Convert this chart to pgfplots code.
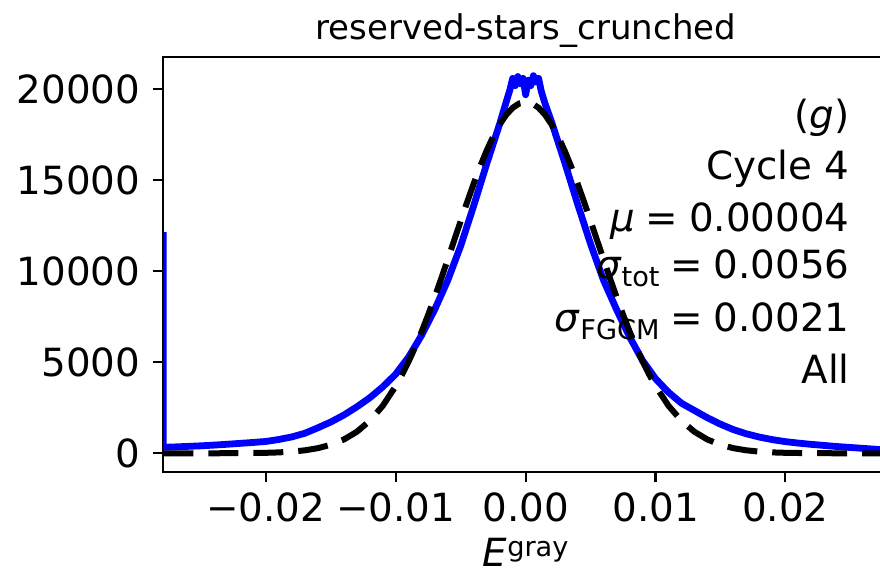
\documentclass[border=0pt]{standalone}
\usepackage{fontspec}
\setmainfont{DejaVu Sans}
\usepackage{pgfplots}
\pgfplotsset{compat=1.18}

\newcommand{\tfont}{\fontsize{19.4}{23}\selectfont}
\newcommand{\sub}[1]{\raisebox{-4pt}{\fontsize{13.6}{16}\selectfont #1}}
\newcommand{\eq}{\kern0.28em=\kern0.28em}

\begin{document}
\begin{tikzpicture}
\begin{axis}[
    scale only axis,
    width=362.35pt, height=207.35pt,
    xmin=-0.0279, xmax=0.0279,
    ymin=-1011, ymax=21775,
    axis line style={line width=1.1pt},
    tick style={line width=1.1pt, black},
    major tick length=5.3pt,
    tick align=outside,
    xtick pos=bottom, ytick pos=left,
    xtick={-0.02,-0.01,0,0.01,0.02},
    xticklabels={−0.02,−0.01,0.00,0.01,0.02},
    ytick={0,5000,10000,15000,20000},
    yticklabels={0,5000,10000,15000,20000},
    scaled ticks=false,
    xticklabel style={font=\tfont, anchor=base, inner sep=0pt, yshift=-19.7pt},
    yticklabel style={font=\tfont, anchor=east, inner sep=0pt, xshift=-6pt},
    title={reserved-stars\_crunched},
    title style={font=\fontsize{17}{20}\selectfont, at={(0.5,1)}, anchor=base, yshift=2.5pt},
    xlabel={\textit{E}\raisebox{5pt}{\fontsize{13.6}{16}\selectfont gray}},
    xlabel style={font=\tfont, at={(0.5,0)}, anchor=base, yshift=-47.6pt},
  ]
  % measured histogram
  \addplot[blue, line width=3.4pt, line join=round] coordinates {
      (-0.0279,12150) (-0.0279,330) (-0.027,350) (-0.026,380) (-0.025,410)
      (-0.024,450) (-0.023,495) (-0.022,545) (-0.021,595) (-0.020,650)
      (-0.019,760) (-0.018,900) (-0.017,1100) (-0.016,1400) (-0.015,1720)
      (-0.014,2100) (-0.013,2550) (-0.012,3050) (-0.011,3650) (-0.010,4350)
      (-0.009,5300) (-0.008,6500) (-0.007,7900) (-0.006,9500) (-0.005,11400)
      (-0.004,13600) (-0.003,15900) (-0.0025,17000) (-0.002,18100) (-0.0015,19300)
      (-0.0012,20000) (-0.001,20600) (-0.0008,20200) (-0.0006,20700) (-0.0004,20300)
      (-0.0002,20600) (0,19700) (0.0002,20500) (0.0004,20200) (0.0006,20750)
      (0.0008,20400) (0.001,20600) (0.0012,19900) (0.0015,19200) (0.002,18200)
      (0.0025,17100) (0.003,16000) (0.004,13700) (0.005,11500) (0.006,9500)
      (0.007,7900) (0.008,6400) (0.009,5100) (0.010,4100) (0.011,3350)
      (0.012,2750) (0.013,2350) (0.014,1950) (0.015,1600) (0.016,1300)
      (0.017,1070) (0.018,890) (0.019,750) (0.020,640) (0.021,560)
      (0.022,490) (0.023,430) (0.024,370) (0.025,320) (0.026,270)
      (0.027,220) (0.028,180)
    };
  % gaussian fit
  \addplot[black, line width=3pt, dash pattern=on 15pt off 7.5pt] coordinates {
      (-0.0279,0) (-0.026,0) (-0.024,1) (-0.022,7) (-0.020,26) (-0.019,49)
      (-0.018,91) (-0.017,163) (-0.016,281) (-0.015,469) (-0.014,756)
      (-0.013,1181) (-0.012,1786) (-0.011,2612) (-0.010,3696) (-0.0095,4343)
      (-0.009,5061) (-0.0085,5846) (-0.008,6701) (-0.0075,7616) (-0.007,8587)
      (-0.0065,9600) (-0.006,10646) (-0.0055,11706) (-0.005,12767) (-0.0045,13811)
      (-0.004,14815) (-0.0035,15763) (-0.003,16633) (-0.0025,17405) (-0.002,18065)
      (-0.0015,18595) (-0.001,18983) (-0.0005,19220) (0,19300) (0.0005,19220)
      (0.001,18983) (0.0015,18595) (0.002,18065) (0.0025,17405) (0.003,16633)
      (0.0035,15763) (0.004,14815) (0.0045,13811) (0.005,12767) (0.0055,11706)
      (0.006,10646) (0.0065,9600) (0.007,8587) (0.0075,7616) (0.008,6701)
      (0.0085,5846) (0.009,5061) (0.0095,4343) (0.010,3696) (0.011,2612)
      (0.012,1786) (0.013,1181) (0.014,756) (0.015,469) (0.016,281)
      (0.017,163) (0.018,91) (0.019,49) (0.020,26) (0.022,7) (0.024,1)
      (0.026,0) (0.0279,0)
    };
\end{axis}
\begin{scope}[every node/.style={anchor=base east, inner sep=0pt, font=\tfont}]
  \node at (343.35pt,171.7pt) {(\textit{g})};
  \node at (343.35pt,145.85pt) {Cycle 4};
  \node at (343.35pt,120pt) {\textit{μ}\eq0.00004};
  \node at (343.35pt,96.35pt) {\textit{σ}\sub{tot}\eq0.0056};
  \node at (343.35pt,70pt) {\textit{σ}\sub{FGCM}\eq0.0021};
  \node at (343.35pt,43.85pt) {All};
\end{scope}
\pgfresetboundingbox
\path[use as bounding box] (-81.65pt,-50.15pt) rectangle (358.35pt,235.85pt);
\end{tikzpicture}
\end{document}
